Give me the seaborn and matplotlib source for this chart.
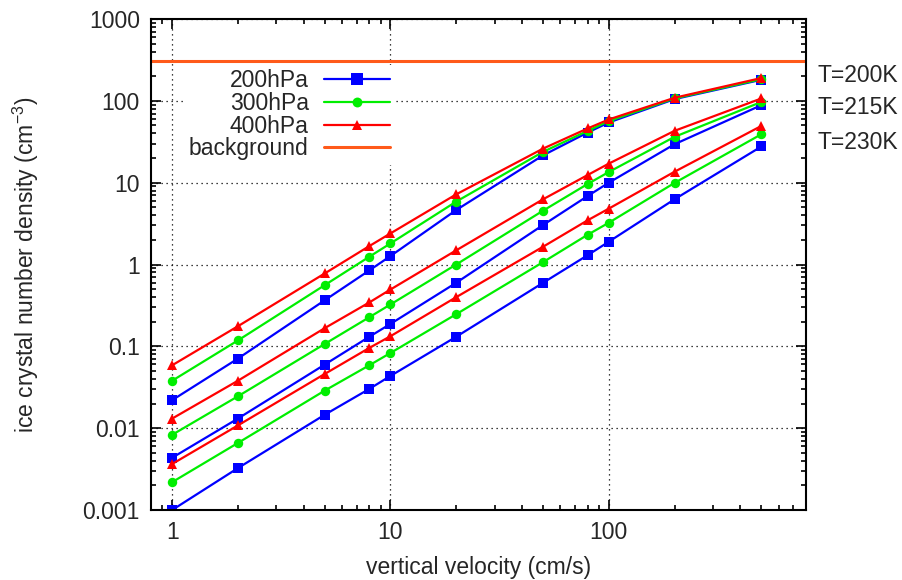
import numpy as np
import pandas as pd
import matplotlib
matplotlib.use("Agg")
import matplotlib.pyplot as plt
from matplotlib.lines import Line2D
from matplotlib.ticker import LogLocator, FuncFormatter, NullFormatter
import seaborn as sns

# ---------------- data ----------------
velocity = [1, 2, 5, 8, 10, 20, 50, 80, 100, 200, 500]

T200_200hPa = [0.022, 0.0708, 0.366, 0.847, 1.27, 4.63, 21.6, 41, 54.4, 105, 181]
T200_300hPa = [0.038, 0.118, 0.56, 1.245, 1.81, 5.87, 23.8, 43, 56.5, 107, 184]
T200_400hPa = [0.0587, 0.176, 0.778, 1.68, 2.40, 7.2, 26.1, 46, 59.2, 109, 190]
T215_200hPa = [0.00435, 0.0131, 0.0599, 0.131, 0.188, 0.598, 3.04, 6.87, 10.0, 29.5, 88.6]
T215_300hPa = [0.0083, 0.0245, 0.107, 0.227, 0.325, 1.0, 4.55, 9.64, 13.5, 36.3, 97]
T215_400hPa = [0.0131, 0.038, 0.167, 0.344, 0.495, 1.49, 6.27, 12.4, 17.1, 43, 107]
T230_200hPa = [0.001, 0.00325, 0.0146, 0.0302, 0.0435, 0.131, 0.598, 1.30, 1.90, 6.27, 27.7]
T230_300hPa = [0.00219, 0.00659, 0.0288, 0.0587, 0.083, 0.247, 1.07, 2.31, 3.24, 9.93, 39.1]
T230_400hPa = [0.00365, 0.0108, 0.046, 0.0957, 0.133, 0.399, 1.65, 3.47, 4.82, 13.6, 49.4]

background = 310

pressures = ["200hPa", "300hPa", "400hPa"]
temperatures = ["T=200K", "T=215K", "T=230K"]
series = {
    ("T=200K", "200hPa"): T200_200hPa,
    ("T=200K", "300hPa"): T200_300hPa,
    ("T=200K", "400hPa"): T200_400hPa,
    ("T=215K", "200hPa"): T215_200hPa,
    ("T=215K", "300hPa"): T215_300hPa,
    ("T=215K", "400hPa"): T215_400hPa,
    ("T=230K", "200hPa"): T230_200hPa,
    ("T=230K", "300hPa"): T230_300hPa,
    ("T=230K", "400hPa"): T230_400hPa,
}

rows = []
for (t, p), vals in series.items():
    for v, n in zip(velocity, vals):
        rows.append({"T": t, "pressure": p, "velocity": v, "density": n})
df = pd.DataFrame(rows)

colors = {"200hPa": "#0000ff", "300hPa": "#00ee00", "400hPa": "#ff0000"}
markers = {"200hPa": "s", "300hPa": "o", "400hPa": "^"}
msizes = {"200hPa": 7.8, "300hPa": 6.8, "400hPa": 7.4}
bg_color = "#ff5a1a"
FS = 16.5

# ---------------- style ----------------
sns.set_style("ticks")
plt.rcParams["font.family"] = ["Liberation Sans", "DejaVu Sans"]
plt.rcParams["mathtext.fontset"] = "custom"
plt.rcParams["mathtext.rm"] = "Liberation Sans"
plt.rcParams["mathtext.it"] = "Liberation Sans:italic"
plt.rcParams["font.size"] = FS

fig = plt.figure(figsize=(9.02, 5.80), dpi=100)
L, R, T, B = 151, 806, 19, 510
ax = fig.add_axes([L / 902, 1 - B / 580, (R - L) / 902, (B - T) / 580])

for p in pressures:
    sub = df[df["pressure"] == p]
    sns.lineplot(data=sub, x="velocity", y="density", units="T", estimator=None,
                 color=colors[p], marker=markers[p], markersize=msizes[p],
                 markeredgewidth=0, linewidth=1.6, ax=ax, legend=False, sort=False)

ax.axhline(background, color=bg_color, linewidth=2.2, zorder=1)

ax.set_xscale("log")
ax.set_yscale("log")
ax.set_xlim(0.8, 800)
ax.set_ylim(0.001, 1000)

fmt = FuncFormatter(lambda v, _: f"{v:g}")
for axis in (ax.xaxis, ax.yaxis):
    axis.set_major_locator(LogLocator(base=10, numticks=20))
    axis.set_minor_locator(LogLocator(base=10, subs=np.arange(2, 10), numticks=20))
    axis.set_major_formatter(fmt)
    axis.set_minor_formatter(NullFormatter())

ax.tick_params(which="both", direction="in", top=True, right=True, width=1.2, color="black")
ax.tick_params(which="major", length=7, pad=8, labelsize=FS)
ax.tick_params(which="minor", length=3.6)
for s in ax.spines.values():
    s.set_linewidth(1.5)
    s.set_color("black")

ax.grid(True, which="major", color="black", linestyle=(0, (1, 3)), linewidth=0.9)
ax.set_axisbelow(True)

ax.set_xlabel("vertical velocity (cm/s)", fontsize=FS)
ax.set_ylabel("ice crystal number density (cm$^{-3}$)", fontsize=FS)
ax.xaxis.set_label_coords(0.5, -0.094)
ax.yaxis.set_label_coords(-0.168, 0.5)

# legend (gnuplot style: text right-aligned, sample on the right)
handles = [Line2D([], [], color=colors[p], marker=markers[p], markersize=msizes[p] + 0.3,
                  markeredgewidth=0, linewidth=1.6) for p in pressures]
handles.append(Line2D([], [], color=bg_color, linewidth=2.2))
labels = pressures + ["background"]
leg = ax.legend(handles, labels, loc="upper right", bbox_to_anchor=(0.372, 0.907),
                markerfirst=False, frameon=True, fancybox=False, framealpha=1,
                edgecolor="none", facecolor="white", fontsize=FS,
                handlelength=2.9, handletextpad=0.65, labelspacing=-0.015,
                borderpad=0.2, numpoints=1, borderaxespad=0)

for t, y in zip(temperatures, [0.884, 0.820, 0.749]):
    ax.text(1.017, y, t, transform=ax.transAxes, ha="left", va="center", fontsize=FS)

fig.savefig("out.png", dpi=100)
